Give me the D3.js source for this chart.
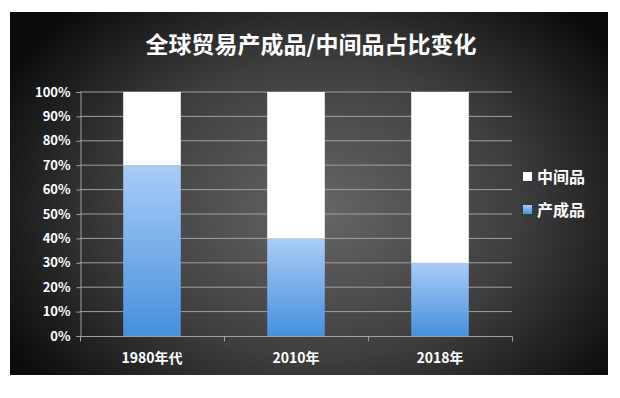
<!DOCTYPE html>
<html><head><meta charset="utf-8">
<script src="https://cdn.jsdelivr.net/npm/d3@7/dist/d3.min.js"></script>
<style>
html,body{margin:0;padding:0;background:#fff;}
svg{display:block;}
text{font-family:"Noto Sans CJK SC","Open Sans",sans-serif;}
</style></head>
<body><svg id="c" width="620" height="398"></svg>
<script>
const categories = ["1980年代", "2010年", "2018年"];
const finalGoods = [70, 40, 30];        // 产成品
const intermediateGoods = [30, 60, 70]; // 中间品
const seriesNames = ["中间品", "产成品"];
const yTicks = [0,10,20,30,40,50,60,70,80,90,100];
const title = "全球贸易产成品/中间品占比变化";

const svg = d3.select("#c");
const defs = svg.append("defs");
const rg = defs.append("radialGradient").attr("id","bg")
  .attr("gradientUnits","userSpaceOnUse").attr("cx",320).attr("cy",210).attr("r",360)
  .attr("gradientTransform","translate(320,210) scale(1,0.75) translate(-320,-210)");
rg.append("stop").attr("offset","0%").attr("stop-color","#666666");
rg.append("stop").attr("offset","55%").attr("stop-color","#3e3e3e");
rg.append("stop").attr("offset","100%").attr("stop-color","#0c0c0c");
const bg = defs.append("linearGradient").attr("id","barg").attr("x1",0).attr("y1",0).attr("x2",0).attr("y2",1);
bg.append("stop").attr("offset","0%").attr("stop-color","#a9ccf7");
bg.append("stop").attr("offset","100%").attr("stop-color","#4690dd");

svg.append("rect").attr("x",10).attr("y",12).attr("width",598).attr("height",363).attr("fill","url(#bg)");

svg.append("text").attr("x",311).attr("y",53).attr("text-anchor","middle")
  .attr("fill","#fff").attr("font-size",23).attr("font-weight","bold").text(title);

const x = d3.scaleBand().domain(categories).range([80,512]).paddingInner(0.6).paddingOuter(0.3);
const y = d3.scaleLinear().domain([0,100]).range([336,92]);

// gridlines
svg.append("g").selectAll("line").data(yTicks.filter(d=>d>0)).join("line")
  .attr("x1",80).attr("x2",512).attr("y1",d=>y(d)).attr("y2",d=>y(d))
  .attr("stroke","#a0a0a0").attr("stroke-width",1);

// y axis
const yAxis = d3.axisLeft(y).tickValues(yTicks).tickFormat(d=>d+"%").tickSize(4).tickPadding(6);
const gy = svg.append("g").attr("transform","translate(80.5,0)").call(yAxis);
gy.select(".domain").attr("stroke","#a0a0a0");
gy.selectAll(".tick line").attr("stroke","#a0a0a0");
gy.selectAll("text").attr("fill","#fff").attr("font-size",13).attr("font-weight","bold")
  .attr("font-family","'Open Sans','Noto Sans',sans-serif");

// bars
const stack = categories.map((c,i)=>({c, f:finalGoods[i], m:intermediateGoods[i]}));
svg.append("g").selectAll("rect").data(stack).join("rect")
  .attr("x",d=>x(d.c)).attr("width",x.bandwidth())
  .attr("y",d=>y(d.f)).attr("height",d=>y(0)-y(d.f)).attr("fill","url(#barg)");
svg.append("g").selectAll("rect").data(stack).join("rect")
  .attr("x",d=>x(d.c)).attr("width",x.bandwidth())
  .attr("y",d=>y(d.f+d.m)).attr("height",d=>y(d.f)-y(d.f+d.m)).attr("fill","#ffffff");

// x axis
const gx = svg.append("g").attr("transform","translate(0,336.5)");
gx.append("line").attr("x1",80).attr("x2",512).attr("stroke","#a0a0a0");
const bounds = d3.range(categories.length+1).map(i=>x.range()[0]+i*(x.range()[1]-x.range()[0])/categories.length);
gx.selectAll(".tk").data(bounds).join("line").attr("class","tk")
  .attr("x1",d=>d+0.5).attr("x2",d=>d+0.5).attr("y1",0).attr("y2",5).attr("stroke","#a0a0a0");
gx.selectAll("text").data(categories).join("text")
  .attr("x",d=>x(d)+x.bandwidth()/2).attr("y",26).attr("text-anchor","middle")
  .attr("fill","#fff").attr("font-size",14).attr("font-weight","bold").text(d=>d);

// legend
const leg = svg.append("g");
const legColors = ["#ffffff","url(#barg)"];
seriesNames.forEach((n,i)=>{
  const yy = 177 + i*33;
  leg.append("rect").attr("x",523).attr("y",yy-5).attr("width",9).attr("height",9).attr("fill",legColors[i]);
  leg.append("text").attr("x",537).attr("y",yy+6).attr("fill","#fff").attr("font-size",16)
    .attr("font-weight","bold").text(n);
});
</script></body></html>
